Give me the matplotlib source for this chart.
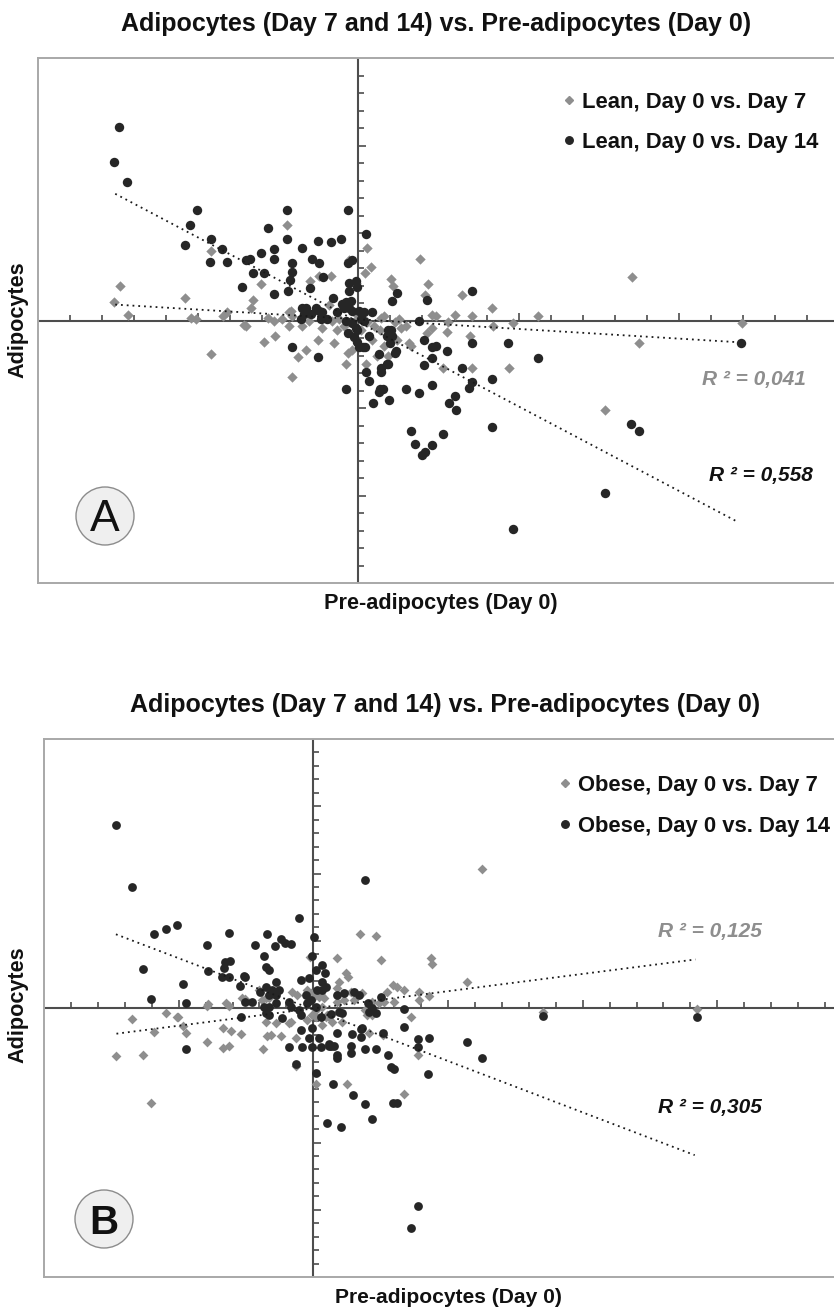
import matplotlib
matplotlib.use("Agg")
import matplotlib.pyplot as plt
from matplotlib.lines import Line2D
from matplotlib.patches import Circle
from matplotlib import markers

plt.rcParams['font.family'] = ['Liberation Sans', 'DejaVu Sans']

# ---------------- data (axis units = tick intervals) ----------------
title = "Adipocytes (Day 7 and 14) vs. Pre-adipocytes (Day 0)"
x_label = "Pre-adipocytes (Day 0)"
y_label = "Adipocytes"

lean_labels = ["Lean, Day 0 vs. Day 7", "Lean, Day 0 vs. Day 14"]
obese_labels = ["Obese, Day 0 vs. Day 7", "Obese, Day 0 vs. Day 14"]
lean_r2 = ["R ² = 0,041", "R ² = 0,558"]
obese_r2 = ["R ² = 0,125", "R ² = 0,305"]

lean_d14_x = [-7.47, -7.63, -7.22, -5.03, -5.25, -5.41, -4.59, -4.25, -4.63, -4.09,
              -3.63, -3.50, -3.38, -3.28, -3.03, -2.94, -2.81, -2.63, -2.63, -2.63,
              -2.22, -2.22, -2.06, -2.06, -2.13, -2.19, -1.75, -1.44, -1.22, -1.25,
              -0.84, -0.53, -1.09, -1.50, -0.34, -0.34, -0.19, -0.28, -0.06, -0.03,
              -0.28, -0.78, 0.25, 1.22, 1.06, 2.13, 3.53, 1.88, 3.53, 4.66,
              5.59, 11.94, 4.16, 3.44, 3.53, 3.22, 2.78, 2.31, 2.41, 2.06,
              2.31, 2.06, 2.31, 1.47, 1.88, 3.00, 2.84, 3.06, 4.16, 1.63,
              1.78, 2.00, 2.09, 2.31, 2.63, 7.69, 4.81, 8.50, 8.75, 1.16,
              1.00, 0.88, 0.72, 0.69, 0.66, 0.78, 0.44, 0.97, 0.25, 0.34,
              -0.38, 0.13, 0.03, 0.22, 0.34, 0.88, 1.03, 1.06, -2.06, -1.25,
              -0.03, -1.75, -1.63, -1.69, -1.31, -1.22, -1.13, -1.78, -1.47, -1.16,
              -0.97, -0.66, -0.50, -0.38, -0.22, -0.44, -0.28, -0.19, 0.03, 0.19,
              -0.38, -0.19, -0.06, -0.34, -0.13, -0.03, 0.41, 0.09, 0.16, 0.63,
              0.63, 1.13, 0.91, 0.91]
lean_d14_y = [11.03, 9.03, 7.94, 6.29, 5.43, 4.34, 4.63, 4.06, 3.37, 3.37,
              1.89, 3.43, 3.49, 2.74, 3.83, 2.74, 5.31, 4.11, 3.54, 1.54,
              6.34, 4.63, 3.31, 2.80, 2.34, 1.71, 4.17, 3.54, 3.26, 4.57,
              4.46, 4.63, 2.51, 1.83, 6.34, 3.31, 3.43, 2.17, 2.23, 1.89,
              1.66, 1.31, 4.97, 1.60, 1.09, 1.20, 1.66, 0.00, -1.26, -1.26,
              -2.17, -1.26, -3.37, -3.83, -3.49, -2.74, -1.77, -1.49, -1.43, -1.09,
              -2.17, -2.57, -3.71, -3.94, -4.17, -4.29, -4.74, -5.14, -6.06, -6.34,
              -7.03, -7.71, -7.49, -7.14, -6.51, -9.83, -11.89, -5.94, -6.34, -1.77,
              -1.31, -2.46, -2.69, -2.97, -3.94, -3.94, -4.69, -4.57, -2.97, -3.43,
              -3.89, -1.54, -1.54, -1.54, -0.91, -0.86, -0.57, -0.91, -1.49, -2.11,
              -1.20, 0.74, 0.74, 0.40, 0.74, 0.57, 0.46, 0.11, 0.40, 0.11,
              0.11, 0.46, 0.97, 1.03, 1.14, 0.69, 0.69, 0.57, 0.57, 0.51,
              0.00, -0.17, -0.40, -0.69, -0.97, -0.57, 0.51, 0.11, 0.00, -4.11,
              -1.89, -1.83, -2.46, -0.57]

lean_d7_x = [-7.44, -7.63, -7.19, -5.41, -4.59, -5.22, -5.06, -4.22, -4.09, -3.34,
             -3.28, -3.03, -2.22, -2.81, -2.63, -2.16, -2.06, -1.50, -0.84, -1.22,
             0.28, 0.38, 0.22, 1.03, 1.09, 2.09, 1.91, 0.72, 0.81, 1.50,
             -0.28, 2.16, 3.22, 4.16, 8.53, 3.53, 3.00, 2.81, 2.41, 2.31,
             5.59, 4.81, 11.97, 8.75, 7.69, 4.69, 3.53, 2.63, 4.19, 2.78,
             3.47, 1.63, 0.25, -0.38, -0.75, 0.91, 2.13, 2.31, -4.59, -2.94,
             -2.59, -2.06, -1.88, -1.63, -1.25, -3.56, -3.50, -2.16, -1.75, -1.13,
             -0.34, -0.19, 1.59, -2.09, -0.06, -0.91, -0.59, -0.44, -0.13, 0.09,
             0.28, 0.50, 0.66, 0.41, 0.81, 1.13, 1.28, -0.03, -0.81, 1.22,
             0.59, 1.34, -2.38, -1.53, -0.66]
lean_d7_y = [2.00, 1.03, 0.34, 1.26, 4.00, 0.17, 0.11, 0.23, 0.51, 0.69,
             1.20, 2.06, 5.43, 0.17, 0.00, 0.46, 0.23, 2.23, 2.57, 2.57,
             4.17, 3.03, 2.69, 2.40, 2.00, 1.43, 3.54, 0.17, 0.23, -0.34,
             3.43, 2.11, 1.43, 0.74, 2.51, 0.23, 0.29, -0.11, 0.23, 0.34,
             0.23, -0.17, -0.17, -1.26, -5.14, -2.69, -2.69, -2.69, -0.29, -0.63,
             -0.86, -1.43, -2.46, -2.51, -1.31, -2.00, -0.69, -0.40, -1.94, -1.20,
             -0.86, -3.20, -2.06, -1.71, -1.14, -0.23, -0.29, -0.29, -0.34, -0.40,
             -1.83, -1.66, -1.31, 0.57, 2.17, 0.86, 0.11, -0.29, -0.11, -0.57,
             -0.11, -0.29, -0.57, -1.14, -1.43, -0.11, 0.11, 0.29, 0.00, -1.14,
             -2.00, -0.40, 0.11, 0.00, -0.57]

obese_d14_x = [-7.32, -6.73, -5.91, -5.46, -5.06, -6.32, -3.94, -3.12, -0.52, -1.71,
               -2.16, -1.41, -1.19, -1.04, -0.82, -1.82, -1.75, -1.64, -3.27, -3.09,
               -3.31, -3.90, 0.04, -0.04, 0.33, 0.45, -2.57, 1.93, -3.38, -3.12,
               -2.53, -2.71, -4.83, -4.72, -2.68, -4.72, -1.97, -1.75, -1.52, -1.38,
               -1.26, -1.38, -1.64, -2.53, -2.27, -1.82, -1.64, -1.38, -1.75, -1.64,
               -0.89, -0.82, -0.52, -1.15, -0.45, -0.45, -0.15, 0.11, 0.33, 0.48,
               0.15, -0.26, -0.07, -0.22, 0.11, 0.30, -0.45, -0.04, -0.15, -0.04,
               0.30, -0.41, -0.89, -0.63, 0.11, -6.02,
               0.74, 1.49, 1.90, 2.16, 0.52, 1.04, 2.94, 3.12, 3.90, 3.61,
               0.86, 2.79, 3.01, 2.90, 0.67, 1.41, 1.41, 1.90, 2.34, 1.45,
               1.78, 1.78, 2.60, 3.35, 3.38, 3.90, 3.90, 0.33, 0.86, 0.67,
               1.15, 1.52, 1.71, 2.04, 2.19, 2.34, 2.08, 4.31, 4.24, 2.53,
               1.08, 0.97, 0.89, 0.78, 0.59, 5.69, 6.28, 8.51, 14.24,
               0.22, 0.59, 0.89, 1.82]
obese_d14_y = [13.63, 9.01, 5.50, 5.87, 6.17, 2.89, 4.68, 5.57, 6.69, 5.50,
               4.68, 4.60, 5.13, 4.83, 4.75, 3.86, 3.04, 2.81, 3.41, 3.49,
               2.96, 2.74, 5.28, 3.86, 3.19, 2.59, 2.37, 9.53, 2.29, 2.29,
               2.29, 1.62, 1.77, 0.35, -0.69, -3.08, 1.17, 1.54, 1.32, 1.92,
               1.32, 0.95, 0.95, 0.43, 0.43, 0.05, 0.05, 0.35, -0.40, -0.54,
               0.43, 0.05, -0.17, -0.77, -0.54, 2.07, 2.22, 2.81, 1.92, 1.54,
               1.32, 0.95, 0.57, 0.35, 0.05, -0.69, -1.66, -1.51, -2.26, -2.93,
               -2.93, -2.93, -2.93, -4.13, -4.80, 0.65,
               -5.62, -6.44, -7.11, -8.23, -8.53, -8.83, -7.04, -7.04, -14.75, -16.32,
               -3.75, -3.46, -4.50, -4.42, -2.86, -3.38, -2.86, -3.08, -3.08, -1.96,
               -2.19, -1.59, -1.89, -1.44, -0.10, -2.34, -2.93, 1.32, 0.95, -0.47,
               1.10, 1.17, 0.95, 0.35, -0.02, -0.40, -0.32, -2.26, -4.87, 0.80,
               -0.40, -0.32, -1.89, -2.86, -2.86, -2.56, -3.75, -0.62, -0.69,
               -2.26, -2.71, -3.53, -1.51]

obese_d7_x = [-7.32, -6.32, -6.73, -6.02, -5.91, -5.46, -5.02, -4.83, -4.72, -3.94,
              -3.90, -3.23, -3.12, -3.35, -3.05, -3.35, -3.12, -2.68, -1.86, -1.71,
              -1.56, -1.19, -1.38, -0.89, -0.63, -1.75, -0.82, -0.63, 0.11, 1.26,
              3.38, 3.61, 1.23, 0.22, 0.33, 0.52, 0.71, 1.08, 2.01, 1.82,
              2.19, 2.45, 2.94, 3.12, 3.38, 2.60, 1.75, 2.34, 0.89, 2.53,
              1.30, -0.11, 6.28, 4.35, 4.42, 0.97, 5.69, 3.94, 3.94, 4.31,
              2.75, 2.64, 3.01, 1.41, 1.52, 1.15, 0.86, -0.22, -0.07, 0.04,
              0.30, 0.41, -0.22, 0.11, 0.59, 0.33, 0.89, 2.08, 3.90, 8.51,
              14.24, -2.53, -2.64, -2.01, -1.90, -1.75, -1.64, -0.78, -0.59, -0.04,
              -0.15, 0.11, 0.48, 2.16, 1.93, -3.94, -5.06, 0.11]
obese_d7_y = [-3.60, -3.53, -0.84, -7.04, -1.81, -0.40, -0.69, -1.37, -1.89, -2.56,
              0.28, 0.35, 0.13, -1.51, -1.74, -3.01, -2.86, -1.96, -3.08, -2.11,
              -2.04, -2.11, -1.14, -1.14, -2.26, -1.07, -1.07, -4.28, -5.62, -5.62,
              -6.37, -0.69, 2.59, 0.80, 0.05, -0.54, -1.07, -1.07, -0.54, 1.10,
              0.43, 0.35, 1.69, 1.54, 1.32, -2.04, 5.50, 5.35, 3.71, 3.56,
              2.29, 3.78, 10.35, 3.71, 3.26, 1.92, 1.92, 1.17, 0.57, 0.87,
              1.17, 0.43, 0.43, 1.17, 0.57, 0.57, 0.43, 1.32, 1.10, 0.80,
              0.95, 0.72, -0.92, -0.69, -0.69, -1.29, 1.47, -1.89, -3.53, -0.32,
              -0.10, 0.65, 0.72, 1.32, 0.57, 0.72, 0.72, 1.17, 0.95, -0.54,
              0.57, 1.10, -0.69, -0.54, -0.17, 0.13, -0.69, -0.17]

# linear trend lines (end points)
lean_d7_trend_x = [-7.59, 11.85]
lean_d7_trend_y = [0.91, -1.24]
lean_d14_trend_x = [-7.59, 11.85]
lean_d14_trend_y = [7.24, -11.52]
obese_d7_trend_x = [-7.31, 14.19]
obese_d7_trend_y = [-1.91, 3.61]
obese_d14_trend_x = [-7.33, 14.16]
obese_d14_trend_y = [5.48, -10.94]

# ---------------- figure ----------------
W, H = 834, 1307
fig = plt.figure(figsize=(W / 100, H / 100), dpi=100)


def fx(px):
    return px / W


def fy(py):
    return 1 - py / H


BLACK = '#262626'
GRAY = '#8e8e8e'
AXC = '#4d4d4d'
BOX = '#a8a8a8'


def panel(l, t, r, b, xlim, ylim):
    ax = fig.add_axes([fx(l), fy(b), (r - l) / W, (b - t) / H])
    ax.set_xlim(*xlim)
    ax.set_ylim(*ylim)
    ax.set_xticks([])
    ax.set_yticks([])
    for s in ['top', 'left', 'bottom']:
        ax.spines[s].set_color(BOX)
        ax.spines[s].set_linewidth(1.4)
    ax.spines['right'].set_visible(False)
    ax.axhline(0, color=AXC, lw=1.5, zorder=1)
    ax.axvline(0, color=AXC, lw=1.5, zorder=1)
    xs = [v for v in range(int(xlim[0]) + 1, int(xlim[1]) + 1) if v != 0]
    ys = [v for v in range(int(ylim[0]) + 1, int(ylim[1])) if v != 0]
    xmin = [v for v in xs if v % 5]
    xmaj = [v for v in xs if v % 5 == 0]
    ymin = [v for v in ys if v % 5]
    ymaj = [v for v in ys if v % 5 == 0]
    kw = dict(ls='none', color=AXC, mew=1.2, zorder=1, clip_on=False)
    ax.plot(xmin, [0] * len(xmin), marker=markers.TICKUP, ms=4.0, **kw)
    ax.plot(xmaj, [0] * len(xmaj), marker=markers.TICKUP, ms=6.0, **kw)
    ax.plot([0] * len(ymin), ymin, marker=markers.TICKRIGHT, ms=4.0, **kw)
    ax.plot([0] * len(ymaj), ymaj, marker=markers.TICKRIGHT, ms=6.0, **kw)
    return ax


def draw_series(ax, gx, gy, bx, by, gtx, gty, btx, bty, s_circ, s_diam):
    ax.scatter(gx, gy, marker='D', s=s_diam, color=GRAY, linewidths=0, zorder=3)
    ax.scatter(bx, by, marker='o', s=s_circ, color=BLACK, linewidths=0, zorder=4)
    ax.plot(gtx, gty, color='#1a1a1a', lw=1.3, ls=(0, (1, 2.2)), zorder=5)
    ax.plot(btx, bty, color='#1a1a1a', lw=1.3, ls=(0, (1, 2.2)), zorder=5)


# Panel A
axA = panel(38, 58, 834, 583, (-10, (834 - 359) / 32), (-15, 15))
draw_series(axA, lean_d7_x, lean_d7_y, lean_d14_x, lean_d14_y,
            lean_d7_trend_x, lean_d7_trend_y, lean_d14_trend_x, lean_d14_trend_y, 46, 28)

# Panel B
axB = panel(44, 739, 834, 1277, (-10, (834 - 314) / 26.9), (-20, 20))
draw_series(axB, obese_d7_x, obese_d7_y, obese_d14_x, obese_d14_y,
            obese_d7_trend_x, obese_d7_trend_y, obese_d14_trend_x, obese_d14_trend_y, 40, 25)

bold = dict(fontweight='bold', color='#111111')

# titles
fig.text(fx(436), fy(31), title, fontsize=18, ha='center', va='baseline', **bold)
fig.text(fx(445), fy(712), title, fontsize=18, ha='center', va='baseline', **bold)

# axis labels
fig.text(fx(440.5), fy(609), x_label, fontsize=15.6, ha='center', va='baseline', **bold)
fig.text(fx(448.5), fy(1303), x_label, fontsize=15.1, ha='center', va='baseline', **bold)
fig.text(fx(18), fy(320), y_label, fontsize=15.6, rotation=90, ha='center', va='center', **bold)
fig.text(fx(18), fy(1005), y_label, fontsize=15.6, rotation=90, ha='center', va='center', **bold)

# legends
for (mx, tx, ys, labels) in [(569, 582, (100, 140), lean_labels),
                             (565, 578, (783, 824), obese_labels)]:
    fig.add_artist(Line2D([fx(mx)], [fy(ys[0])], marker='D', ms=3.8, color=GRAY, ls='none'))
    fig.add_artist(Line2D([fx(mx)], [fy(ys[1])], marker='o', ms=5.4, color=BLACK, ls='none'))
    for yy, lab in zip(ys, labels):
        fig.text(fx(tx), fy(yy + 7.8), lab, fontsize=15.8, ha='left', va='baseline', **bold)

# R^2 annotations
r2kw = dict(fontsize=15, fontweight='bold', style='italic', ha='left', va='baseline')
fig.text(fx(702), fy(385), lean_r2[0], color=GRAY, **r2kw)
fig.text(fx(709), fy(481), lean_r2[1], color='#111111', **r2kw)
fig.text(fx(658), fy(937), obese_r2[0], color=GRAY, **r2kw)
fig.text(fx(658), fy(1113), obese_r2[1], color='#111111', **r2kw)

# panel badges
for (cx, cy, lab, base, fs, fw) in [(105, 516, 'A', 530.7, 32, 'normal'),
                                    (104, 1219, 'B', 1234, 29, 'bold')]:
    fig.add_artist(Circle((cx / 100, (H - cy) / 100), 0.29, transform=fig.dpi_scale_trans,
                          facecolor='#efefef', edgecolor='#8c8c8c', lw=1.0))
    fig.text(fx(cx), fy(base), lab, fontsize=fs, fontweight=fw, ha='center', va='baseline',
             color='#111111')

fig.savefig('out.png', dpi=100)
